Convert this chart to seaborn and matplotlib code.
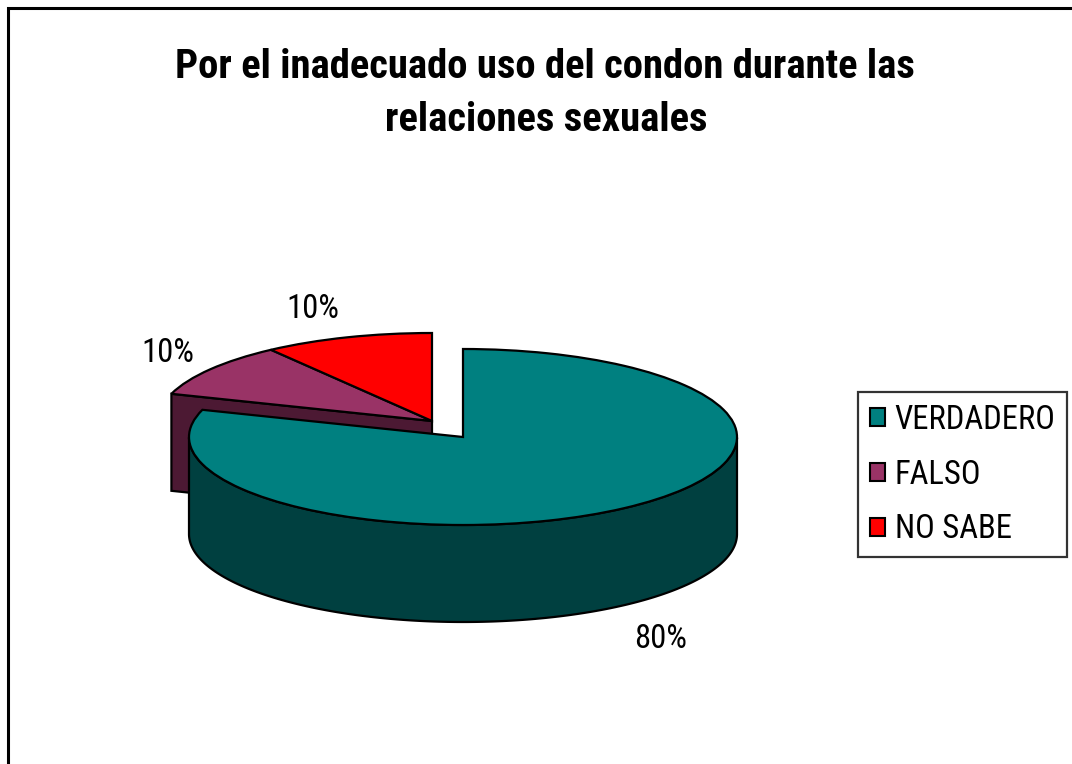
import numpy as np
import matplotlib
matplotlib.use("Agg")
import matplotlib.pyplot as plt
import seaborn as sns
from matplotlib import font_manager
from matplotlib.patches import Patch, Polygon, Rectangle
from matplotlib.transforms import Affine2D

categories = ["VERDADERO", "FALSO", "NO SABE"]
percentages = [80, 10, 10]
top_colors = ["#008080", "#993366", "#FF0000"]
side_colors = ["#004040", "#4C1933", "#800000"]
exploded = [False, True, True]

title_lines = ["Por el inadecuado uso del condon durante las", "relaciones sexuales"]

W, H = 1072, 764
# layout of the tilted pie (pixel units, y up)
cx, cy = 463, H - 437
rx, ry = 274, 88
depth = 97
shift = (-31, 16)
# where the percentage labels sit (pixels from top-left, baseline)
label_xy = [(661, 648), (168, 362), (313, 318)]

sns.set_theme(style="white")
available = {f.name for f in font_manager.fontManager.ttflist}
narrow = next((n for n in ["Liberation Sans Narrow", "Roboto Condensed", "PT Sans Narrow",
                           "Archivo Narrow"] if n in available), "DejaVu Sans")
plt.rcParams["font.family"] = [narrow, "Liberation Sans", "DejaVu Sans"]
plt.rcParams["font.stretch"] = "condensed"
plt.rcParams["text.color"] = "black"

fig = plt.figure(figsize=(W / 100, H / 100), dpi=100)
ax = fig.add_axes([0, 0, 1, 1])
renderer = fig.canvas.get_renderer()


def fit(txt, target_px):
    bb = txt.get_window_extent(renderer)
    txt.set_fontsize(txt.get_fontsize() * target_px / bb.width)
    return txt.get_fontsize()


wedges, _ = ax.pie(
    percentages,
    colors=top_colors,
    startangle=90,
    counterclock=False,
    radius=rx,
    center=(cx, cy),
    wedgeprops=dict(edgecolor="black", linewidth=1.6),
)
ax.set_aspect("auto")
ax.set_xlim(0, W)
ax.set_ylim(0, H)
ax.axis("off")


def ell(t, dx=0.0, dy=0.0):
    r = np.radians(t)
    return cx + dx + rx * np.cos(r), cy + dy + ry * np.sin(r)


def same_group_edge(i, th):
    for j, o in enumerate(wedges):
        if j != i and exploded[j] == exploded[i]:
            for oth in (o.theta1, o.theta2):
                if abs(((oth - th) + 180) % 360 - 180) < 1e-6:
                    return True
    return False


for i, w in enumerate(wedges):
    dx, dy = shift if exploded[i] else (0, 0)
    base = 2 if exploded[i] else 5
    w.set_transform(
        Affine2D().translate(-cx, -cy).scale(1, ry / rx).translate(cx + dx, cy + dy)
        + ax.transData
    )
    w.set_zorder(base + 1)

    # radial cut faces that turn towards the viewer
    for th, sgn in ((w.theta1, -1), (w.theta2, 1)):
        if sgn * np.cos(np.radians(th)) < -1e-6 and not same_group_edge(i, th):
            ex, ey = ell(th, dx, dy)
            pts = [(cx + dx, cy + dy), (ex, ey), (ex, ey - depth), (cx + dx, cy + dy - depth)]
            ax.add_patch(Polygon(pts, closed=True, facecolor=side_colors[i],
                                 edgecolor="black", linewidth=1.6, zorder=base))

    # outer rim on the front half
    t = np.linspace(w.theta1, w.theta2, 600)
    front = np.sin(np.radians(t)) <= 0
    if front.any():
        idx = np.where(front)[0]
        for run in np.split(idx, np.where(np.diff(idx) > 1)[0] + 1):
            xs, ys = ell(t[run], dx, dy)
            px = np.concatenate([xs, xs[::-1]])
            py = np.concatenate([ys, ys[::-1] - depth])
            ax.add_patch(Polygon(np.column_stack([px, py]), closed=True,
                                 facecolor=side_colors[i], edgecolor="black",
                                 linewidth=1.6, zorder=base))

# label size: "VERDADERO" in the legend is about 162 px wide
probe = fig.text(0, 0, categories[0], fontsize=23)
label_size = fit(probe, 162)
probe.remove()

for i in range(len(percentages)):
    lx, ly = label_xy[i]
    ax.text(lx, H - ly, f"{percentages[i]}%", ha="center", va="baseline",
            fontsize=label_size, zorder=10)

# title
t1 = fig.text(545 / W, 1 - 78 / H, title_lines[0], ha="center", va="baseline",
              fontsize=29, fontweight="bold")
tsize = fit(t1, 740)
fig.text(546 / W, 1 - 131 / H, title_lines[1], ha="center", va="baseline",
         fontsize=tsize, fontweight="bold")

# legend
handles = [Patch(facecolor=c, edgecolor="black", linewidth=1.5) for c in top_colors]
fs_px = label_size * 100 / 72
leg = fig.legend(
    handles, categories,
    loc="upper left",
    bbox_to_anchor=(858 / W, 1 - 392 / H),
    borderaxespad=0,
    frameon=True,
    fancybox=False,
    edgecolor="black",
    fontsize=label_size,
    handlelength=15 / fs_px,
    handleheight=15 / fs_px,
    handletextpad=10 / fs_px,
    labelspacing=0.7,
    borderpad=0.36,
)
leg.get_frame().set_linewidth(1.6)

# chart area border (cropped at right and bottom)
fig.add_artist(Rectangle((7.5 / W, -0.05), 1.1, 1 - 7.5 / H + 0.05,
                         transform=fig.transFigure, fill=False,
                         edgecolor="black", linewidth=2.2))

fig.savefig("out.png", dpi=100)
